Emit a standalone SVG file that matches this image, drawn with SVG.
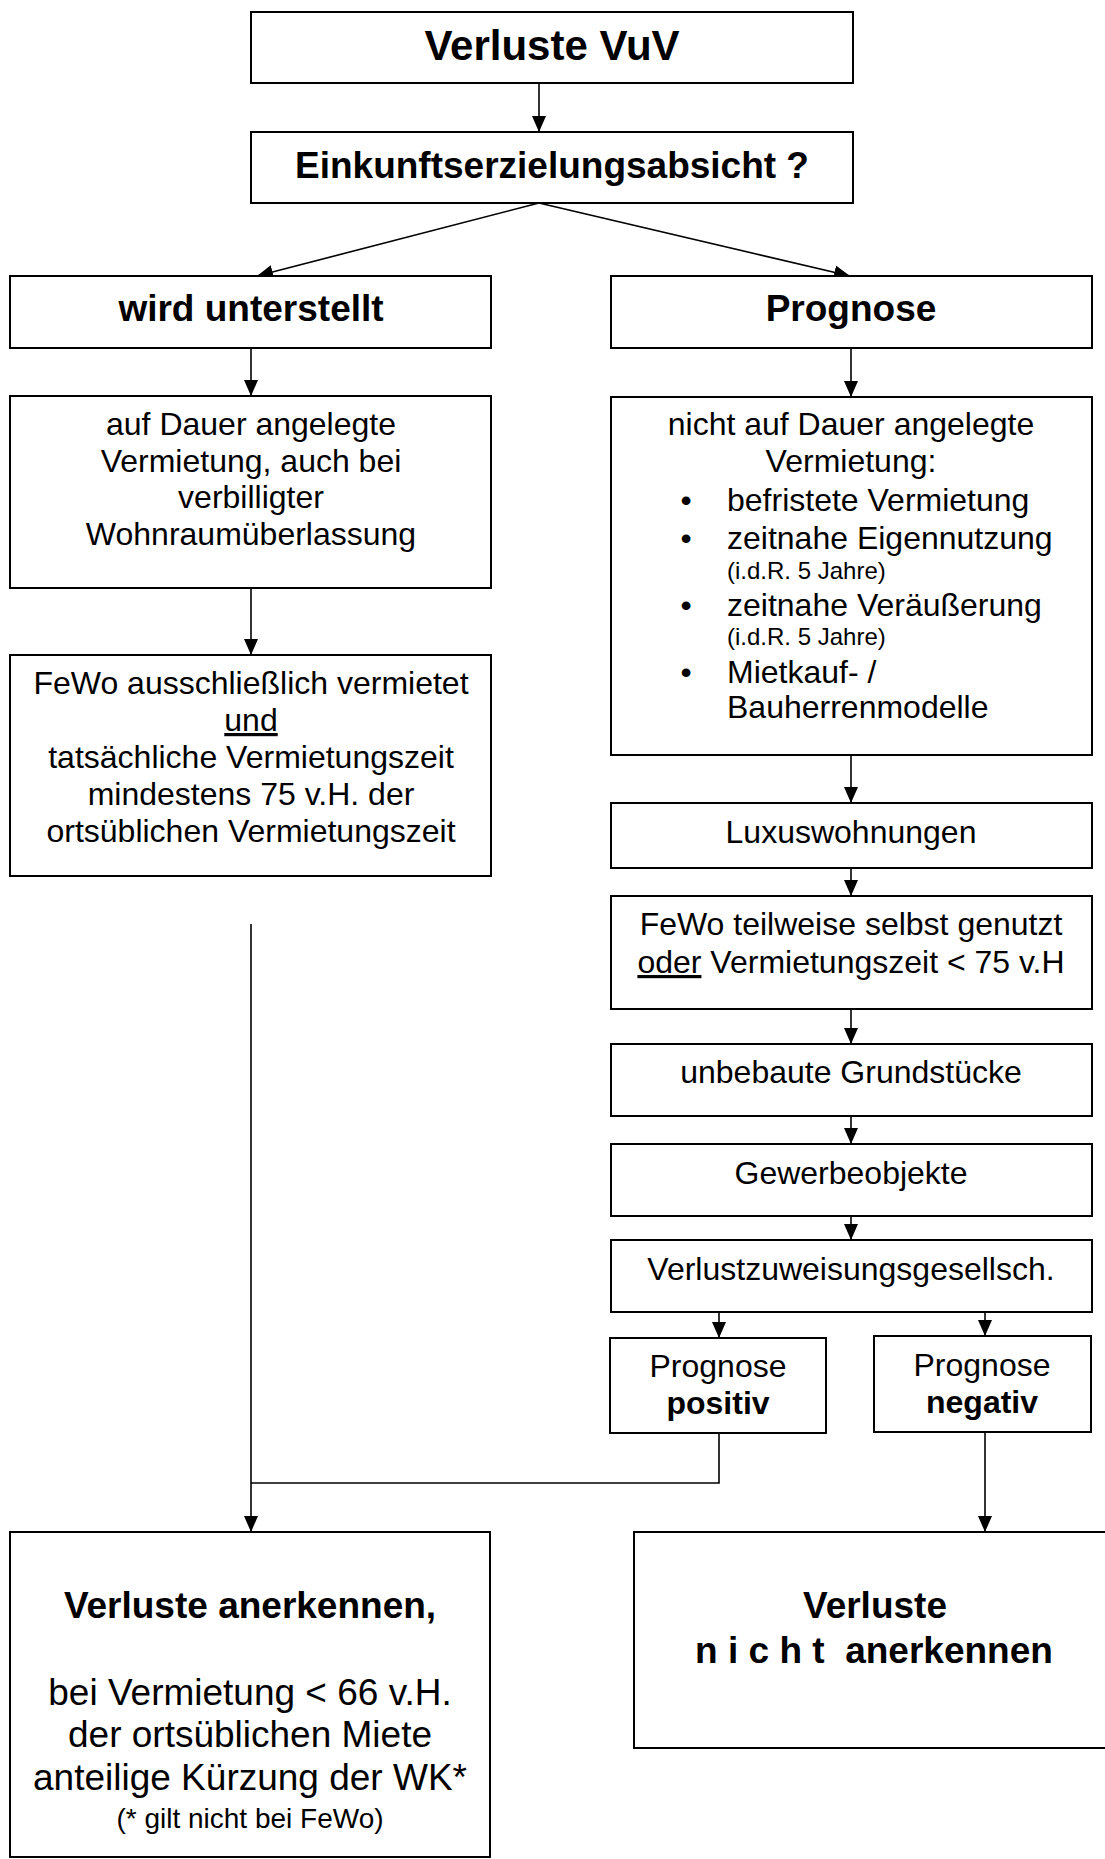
<svg xmlns="http://www.w3.org/2000/svg" width="1105" height="1859" viewBox="0 0 1105 1859">
<defs>
<marker id="ah" markerUnits="userSpaceOnUse" markerWidth="16" markerHeight="14" refX="16" refY="7" orient="auto">
<path d="M0,0 L16,7 L0,14 Z" fill="#000"/>
</marker>
<style>
.box{fill:#fff;stroke:#000;stroke-width:2}
.t{font-family:"Liberation Sans",Arial,sans-serif;fill:#000;text-anchor:middle;font-size:32px}
.l{text-anchor:start}
.b{font-weight:bold}
.s{font-size:24px}
.c{fill:none;stroke:#000;stroke-width:1.6}
.a{marker-end:url(#ah)}
.u{text-decoration:underline}
</style>
</defs>
<rect width="1105" height="1859" fill="#fff"/>
<g id="connectors">
<line class="c a" x1="539" y1="83" x2="539" y2="132"/>
<line class="c a" x1="539" y1="203" x2="257" y2="276"/>
<line class="c a" x1="539" y1="203" x2="850" y2="276"/>
<line class="c a" x1="251" y1="348" x2="251" y2="396"/>
<line class="c a" x1="851" y1="348" x2="851" y2="397"/>
<line class="c a" x1="251" y1="588" x2="251" y2="655"/>
<line class="c a" x1="851" y1="755" x2="851" y2="803"/>
<line class="c a" x1="851" y1="868" x2="851" y2="896"/>
<line class="c a" x1="851" y1="1009" x2="851" y2="1044"/>
<line class="c a" x1="851" y1="1116" x2="851" y2="1144"/>
<line class="c a" x1="851" y1="1216" x2="851" y2="1240"/>
<line class="c a" x1="719" y1="1312" x2="719" y2="1338"/>
<line class="c a" x1="985" y1="1312" x2="985" y2="1336"/>
<line class="c a" x1="251" y1="924" x2="251" y2="1532"/>
<polyline class="c" points="719,1433 719,1483 251,1483"/>
<line class="c a" x1="985" y1="1432" x2="985" y2="1532"/>
</g>
<g id="n1"><rect class="box" x="251" y="12" width="602" height="71"/><text class="t b" x="552" y="60" style="font-size:42px">Verluste VuV</text></g>
<g id="n2"><rect class="box" x="251" y="132" width="602" height="71"/><text class="t b" x="552" y="178" style="font-size:37px">Einkunftserzielungsabsicht ?</text></g>
<g id="n3"><rect class="box" x="10" y="276" width="481" height="72"/><text class="t b" x="251" y="321" style="font-size:37px">wird unterstellt</text></g>
<g id="n4"><rect class="box" x="611" y="276" width="481" height="72"/><text class="t b" x="851" y="321" style="font-size:37px">Prognose</text></g>
<g id="n5"><rect class="box" x="10" y="396" width="481" height="192"/>
<text class="t" x="251" y="435">auf Dauer angelegte</text>
<text class="t" x="251" y="472">Vermietung, auch bei</text>
<text class="t" x="251" y="508">verbilligter</text>
<text class="t" x="251" y="545">Wohnraumüberlassung</text></g>
<g id="n6"><rect class="box" x="10" y="655" width="481" height="221"/>
<text class="t" x="251" y="694">FeWo ausschließlich vermietet</text>
<text class="t u" x="251" y="731">und</text>
<text class="t" x="251" y="768">tatsächliche Vermietungszeit</text>
<text class="t" x="251" y="805">mindestens 75 v.H. der</text>
<text class="t" x="251" y="842">ortsüblichen Vermietungszeit</text></g>
<g id="n7"><rect class="box" x="611" y="397" width="481" height="358"/>
<text class="t" x="851" y="435">nicht auf Dauer angelegte</text>
<text class="t" x="851" y="472">Vermietung:</text>
<text class="t" x="686" y="511">•</text><text class="t l" x="727" y="511">befristete Vermietung</text>
<text class="t" x="686" y="549">•</text><text class="t l" x="727" y="549">zeitnahe Eigennutzung</text>
<text class="t l s" x="727" y="579">(i.d.R. 5 Jahre)</text>
<text class="t" x="686" y="616">•</text><text class="t l" x="727" y="616">zeitnahe Veräußerung</text>
<text class="t l s" x="727" y="645">(i.d.R. 5 Jahre)</text>
<text class="t" x="686" y="683">•</text><text class="t l" x="727" y="683">Mietkauf- /</text>
<text class="t l" x="727" y="718">Bauherrenmodelle</text></g>
<g id="n8"><rect class="box" x="611" y="803" width="481" height="65"/><text class="t" x="851" y="843">Luxuswohnungen</text></g>
<g id="n9"><rect class="box" x="611" y="896" width="481" height="113"/>
<text class="t" x="851" y="935">FeWo teilweise selbst genutzt</text>
<text class="t" x="851" y="973"><tspan class="u">oder</tspan> Vermietungszeit &lt; 75 v.H</text></g>
<g id="n10"><rect class="box" x="611" y="1044" width="481" height="72"/><text class="t" x="851" y="1083">unbebaute Grundstücke</text></g>
<g id="n11"><rect class="box" x="611" y="1144" width="481" height="72"/><text class="t" x="851" y="1184">Gewerbeobjekte</text></g>
<g id="n12"><rect class="box" x="611" y="1240" width="481" height="72"/><text class="t" x="851" y="1280">Verlustzuweisungsgesellsch.</text></g>
<g id="n13"><rect class="box" x="610" y="1338" width="216" height="95"/>
<text class="t" x="718" y="1377">Prognose</text>
<text class="t b" x="718" y="1414">positiv</text></g>
<g id="n14"><rect class="box" x="874" y="1336" width="217" height="96"/>
<text class="t" x="982" y="1376">Prognose</text>
<text class="t b" x="982" y="1413">negativ</text></g>
<g id="n15"><rect class="box" x="10" y="1532" width="480" height="325"/>
<text class="t b" x="250" y="1618" style="font-size:37px">Verluste anerkennen,</text>
<text class="t" x="250" y="1705" style="font-size:37px">bei Vermietung &lt; 66 v.H.</text>
<text class="t" x="250" y="1747" style="font-size:37px">der ortsüblichen Miete</text>
<text class="t" x="250" y="1790" style="font-size:37px">anteilige Kürzung der WK*</text>
<text class="t" x="250" y="1828" style="font-size:28px">(* gilt nicht bei FeWo)</text></g>
<g id="n16"><rect class="box" x="634" y="1532" width="480" height="216"/>
<text class="t b" x="875" y="1618" style="font-size:37px">Verluste</text>
<text class="t b" x="874" y="1663" style="font-size:37px;white-space:pre" xml:space="preserve">n i c h t  anerkennen</text></g>
</svg>
